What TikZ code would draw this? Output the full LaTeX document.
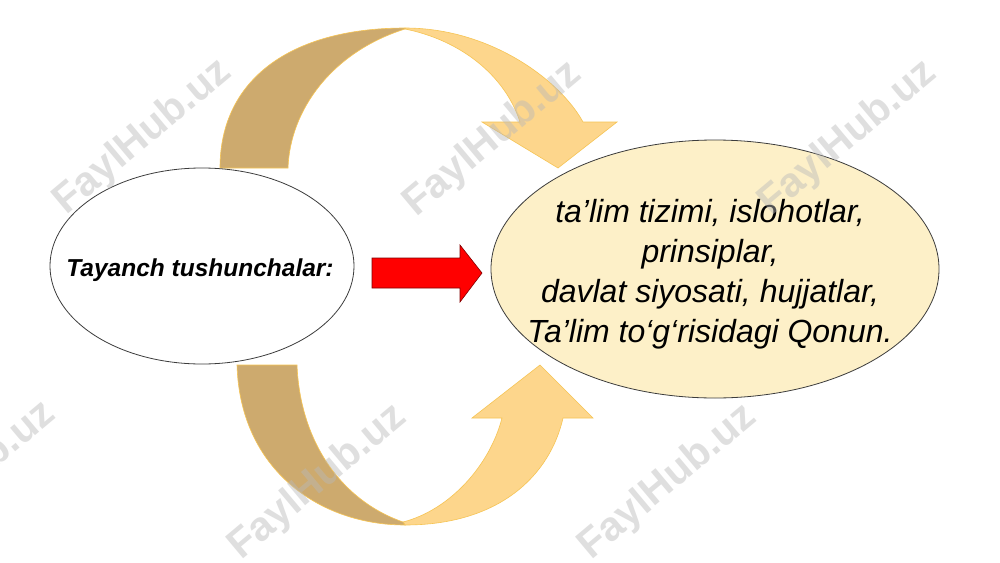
\documentclass[tikz,border=0pt]{standalone}
\usepackage{fontspec}
\setmainfont{Liberation Sans}
\usetikzlibrary{shapes.geometric,calc}
\definecolor{darkgold}{RGB}{205,170,110}
\definecolor{lightgold}{RGB}{253,214,140}
\definecolor{goldline}{RGB}{246,196,84}
\definecolor{creamfill}{RGB}{253,240,200}
\definecolor{outlinegray}{RGB}{60,60,60}
\definecolor{arrowred}{RGB}{255,0,0}
\definecolor{arrowedge}{RGB}{130,0,0}
\definecolor{wmgray}{RGB}{185,185,185}
\begin{document}
\begin{tikzpicture}[x=1pt,y=-1pt,
  darkpiece/.style={fill=darkgold,draw=goldline,line width=0.6pt},
  lightpiece/.style={fill=lightgold,draw=goldline,line width=0.6pt},
  bubble/.style={ellipse,draw=outlinegray,line width=0.8pt,inner sep=0pt},
  wmark/.style={font=\fontsize{41}{41}\selectfont\bfseries,text=wmgray,opacity=0.45,rotate=40,inner sep=0pt}]
\useasboundingbox (0,0) rectangle (1000,562);
\fill[white] (0,0) rectangle (1000,562);
% curved arrows (top)
\path[lightpiece] (405,28) .. controls (490,28) and (560,80) .. (583,122)
  -- (617,122) -- (558,168) -- (482,122) -- (520,122)
  .. controls (505,75) and (460,40) .. (405,29) -- cycle;
\path[darkpiece] (220,168) .. controls (220,80) and (290,28) .. (405,28)
  -- (405,29) .. controls (332,52) and (290,110) .. (288,168) -- cycle;
% curved arrows (bottom)
\path[lightpiece] (405,525) .. controls (500,525) and (550,475) .. (563,418)
  -- (593,418) -- (540,365) -- (472,418) -- (502,418)
  .. controls (490,465) and (450,510) .. (403,522) -- cycle;
\path[darkpiece] (237,365) .. controls (240,470) and (320,525) .. (405,525)
  -- (403,522) .. controls (340,500) and (300,440) .. (297,365) -- cycle;
% ellipses
\node[bubble,fill=white,minimum width=304pt,minimum height=196pt] (L) at (202,266) {};
\node[bubble,fill=creamfill,minimum width=448pt,minimum height=258pt] (R) at (715,269) {};
\node[font=\fontsize{24.5}{29}\selectfont\bfseries\itshape,anchor=base,inner sep=0pt] (Lt) at (200,276) {Tayanch tushunchalar:};
\node[font=\fontsize{32}{40}\selectfont\itshape,align=center,inner sep=0pt] (Rt) at (710,274)
  {ta’lim tizimi, islohotlar,\\ prinsiplar,\\ davlat siyosati, hujjatlar,\\ Ta’lim to‘g‘risidagi Qonun.};
% red block arrow
\path[fill=arrowred,draw=arrowedge,line width=0.6pt] (372,258) -- (460,258) -- (460,245) -- (482,273)
  -- (460,302) -- (460,288) -- (372,288) -- cycle;
% watermarks
\node[wmark] (w1) at (143,137) {FaylHub.uz};
\node[wmark] (w2) at (493,139) {FaylHub.uz};
\node[wmark] (w3) at (848,138) {FaylHub.uz};
\node[wmark] (w4) at (-33,479) {FaylHub.uz};
\node[wmark] (w5) at (318,482) {FaylHub.uz};
\node[wmark] (w6) at (668,482) {FaylHub.uz};
\end{tikzpicture}
\end{document}
